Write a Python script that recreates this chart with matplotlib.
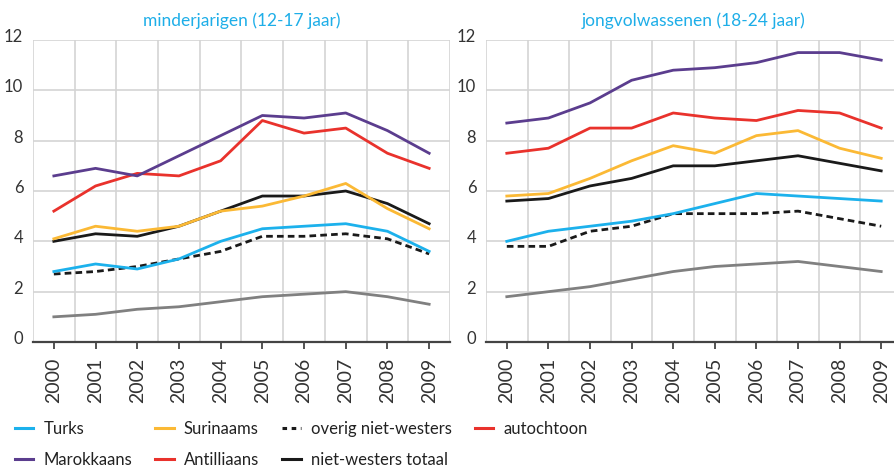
import numpy as np
import matplotlib
matplotlib.use('Agg')
import matplotlib.pyplot as plt
import matplotlib.transforms as mtransforms
from matplotlib.lines import Line2D

plt.rcParams['font.family'] = ['Lato', 'DejaVu Sans']

jaren = [2000, 2001, 2002, 2003, 2004, 2005, 2006, 2007, 2008, 2009]

# minderjarigen (12-17 jaar)
min_turks = [2.8, 3.1, 2.9, 3.3, 4.0, 4.5, 4.6, 4.7, 4.4, 3.6]
min_marokkaans = [6.6, 6.9, 6.6, 7.4, 8.2, 9.0, 8.9, 9.1, 8.4, 7.5]
min_surinaams = [4.1, 4.6, 4.4, 4.6, 5.2, 5.4, 5.8, 6.3, 5.3, 4.5]
min_antilliaans = [5.2, 6.2, 6.7, 6.6, 7.2, 8.8, 8.3, 8.5, 7.5, 6.9]
min_overig = [2.7, 2.8, 3.0, 3.3, 3.6, 4.2, 4.2, 4.3, 4.1, 3.5]
min_totaal = [4.0, 4.3, 4.2, 4.6, 5.2, 5.8, 5.8, 6.0, 5.5, 4.7]
min_autochtoon = [1.0, 1.1, 1.3, 1.4, 1.6, 1.8, 1.9, 2.0, 1.8, 1.5]

# jongvolwassenen (18-24 jaar)
jv_turks = [4.0, 4.4, 4.6, 4.8, 5.1, 5.5, 5.9, 5.8, 5.7, 5.6]
jv_marokkaans = [8.7, 8.9, 9.5, 10.4, 10.8, 10.9, 11.1, 11.5, 11.5, 11.2]
jv_surinaams = [5.8, 5.9, 6.5, 7.2, 7.8, 7.5, 8.2, 8.4, 7.7, 7.3]
jv_antilliaans = [7.5, 7.7, 8.5, 8.5, 9.1, 8.9, 8.8, 9.2, 9.1, 8.5]
jv_overig = [3.8, 3.8, 4.4, 4.6, 5.1, 5.1, 5.1, 5.2, 4.9, 4.6]
jv_totaal = [5.6, 5.7, 6.2, 6.5, 7.0, 7.0, 7.2, 7.4, 7.1, 6.8]
jv_autochtoon = [1.8, 2.0, 2.2, 2.5, 2.8, 3.0, 3.1, 3.2, 3.0, 2.8]

kleur_turks = '#1cb1ec'
kleur_marokkaans = '#5b3d8e'
kleur_surinaams = '#fbb935'
kleur_antilliaans = '#e9322c'
kleur_zwart = '#1a1a1a'
kleur_grijs = '#808080'
kleur_titel = '#1eaee8'

fig = plt.figure(figsize=(8.95, 4.68), dpi=100)
ax1 = fig.add_axes([33 / 895, 1 - 342 / 468, 417 / 895, 302 / 468])
ax2 = fig.add_axes([486 / 895, 1 - 342 / 468, 416 / 895, 302 / 468])


def teken(ax, titel, turks, marok, surin, antil, overig, totaal, autoch):
    x = np.arange(len(jaren))
    lw = 2.0
    ax.plot(x, autoch, color=kleur_grijs, lw=lw)
    ax.plot(x, overig, color=kleur_zwart, lw=lw, dashes=(2.4, 1.5))
    ax.plot(x, turks, color=kleur_turks, lw=lw)
    ax.plot(x, totaal, color=kleur_zwart, lw=lw)
    ax.plot(x, surin, color=kleur_surinaams, lw=lw)
    ax.plot(x, antil, color=kleur_antilliaans, lw=lw)
    ax.plot(x, marok, color=kleur_marokkaans, lw=lw)

    ax.set_xlim(-0.5, 9.5)
    ax.set_ylim(0, 12)
    ax.set_yticks(range(0, 13, 2))
    ax.set_xticks(x)
    ax.set_xticklabels([str(j) for j in jaren], rotation=90, fontsize=14, color='#333333')
    ax.set_xticks(np.arange(-0.5, 10, 1), minor=True)
    ax.grid(True, which='minor', axis='x', color='#d4d4d4', lw=1.2)
    ax.grid(True, which='major', axis='y', color='#d4d4d4', lw=1.2)
    ax.set_axisbelow(True)
    for s in ['top', 'right', 'left']:
        ax.spines[s].set_visible(False)
    ax.spines['bottom'].set_color('#444444')
    ax.spines['bottom'].set_linewidth(1.6)
    ax.tick_params(axis='x', which='major', length=5, width=1.3, color='#444444', pad=6)
    ax.tick_params(axis='x', which='minor', length=0)
    ax.tick_params(axis='y', length=0, pad=7, labelsize=12, labelcolor='#333333')
    omhoog = mtransforms.ScaledTranslation(0, 3 / 100, fig.dpi_scale_trans)
    for lab in ax.get_yticklabels():
        lab.set_verticalalignment('center')
        lab.set_transform(lab.get_transform() + omhoog)
    ax.set_title(titel, color=kleur_titel, fontsize=12.5, pad=10)


teken(ax1, 'minderjarigen (12-17 jaar)', min_turks, min_marokkaans, min_surinaams,
      min_antilliaans, min_overig, min_totaal, min_autochtoon)
teken(ax2, 'jongvolwassenen (18-24 jaar)', jv_turks, jv_marokkaans, jv_surinaams,
      jv_antilliaans, jv_overig, jv_totaal, jv_autochtoon)

# legenda, kolomsgewijs gevuld
handles = [
    Line2D([], [], color=kleur_turks, lw=2.2),
    Line2D([], [], color=kleur_marokkaans, lw=2.2),
    Line2D([], [], color=kleur_surinaams, lw=2.2),
    Line2D([], [], color=kleur_antilliaans, lw=2.2),
    Line2D([], [], color=kleur_zwart, lw=2.2, dashes=(1.5, 1.5)),
    Line2D([], [], color=kleur_zwart, lw=2.2),
    Line2D([], [], color=kleur_antilliaans, lw=2.2),
]
labels = ['Turks', 'Marokkaans', 'Surinaams', 'Antilliaans',
          'overig niet-westers', 'niet-westers totaal', 'autochtoon']
fig.legend(handles, labels, ncol=4, loc='upper left', bbox_to_anchor=(10 / 895, 1 - 416 / 468),
           frameon=False, fontsize=12, handlelength=1.1, handletextpad=0.6,
           columnspacing=1.4, labelspacing=0.9, labelcolor='#222222',
           borderaxespad=0, borderpad=0.3)

fig.savefig('out.png', dpi=100)
